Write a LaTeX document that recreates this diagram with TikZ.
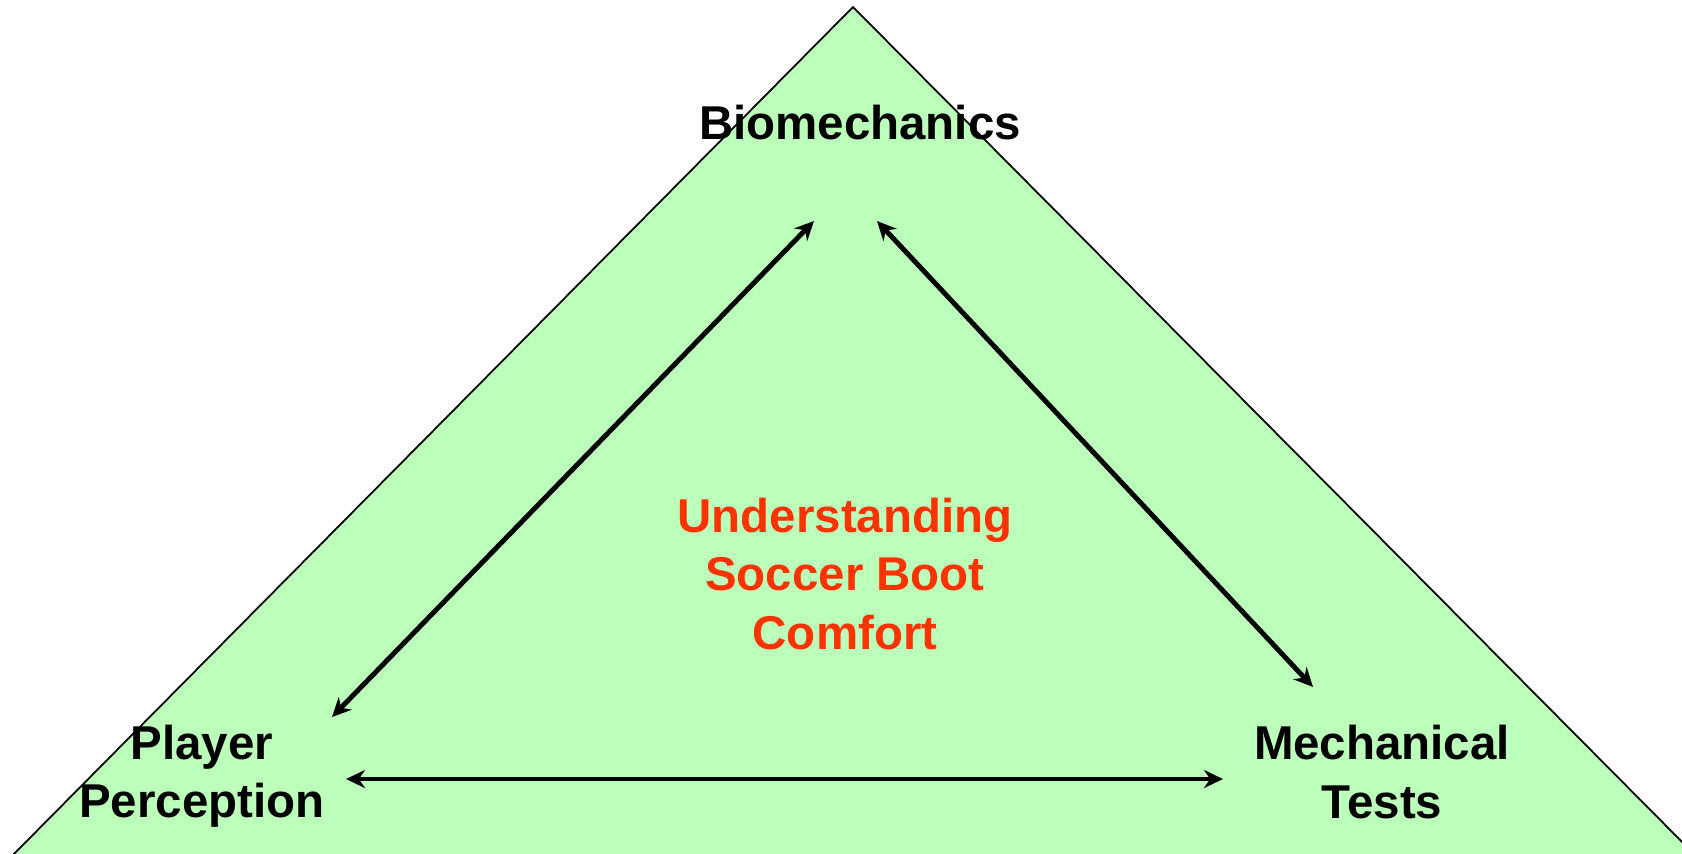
\documentclass[tikz,border=0pt]{standalone}
\usepackage{fontspec}
\setmainfont{Liberation Sans}
\usetikzlibrary{arrows.meta}
\definecolor{paleGreen}{RGB}{187,255,187}
\definecolor{boldRed}{RGB}{255,51,0}
\begin{document}
\begin{tikzpicture}[x=0.01cm, y=-0.01cm,
                    label/.style={align=center, font=\bfseries\fontsize{13.5}{16.5}\selectfont},
                    link/.style={{Stealth[length=1.9mm,width=1.8mm]}-{Stealth[length=1.9mm,width=1.8mm]}, line width=1.4pt}]
\useasboundingbox (0,0) rectangle (1682,853);
\begin{scope}
\clip (0,0) rectangle (1682,853);
\draw[fill=paleGreen, line width=0.5pt] (853,7) -- (1700,860) -- (8,860) -- cycle;
\end{scope}
\node[label] (bio) at (860,123) {Biomechanics};
\node[label] (player) at (202,776) {Player\\Perception};
\node[label] (mech) at (1382,772) {Mechanical\\Tests};
\node[label, text=boldRed] (centre) at (845,574) {Understanding\\Soccer Boot\\Comfort};
\coordinate (bioL) at (814,221);
\coordinate (bioR) at (877,221);
\coordinate (playerT) at (332,717);
\coordinate (playerR) at (346,779);
\coordinate (mechT) at (1313,687);
\coordinate (mechL) at (1223,779);
\draw[link] (playerT) -- (bioL);
\draw[link] (bioR) -- (mechT);
\draw[link] (playerR) -- (mechL);
\end{tikzpicture}
\end{document}
